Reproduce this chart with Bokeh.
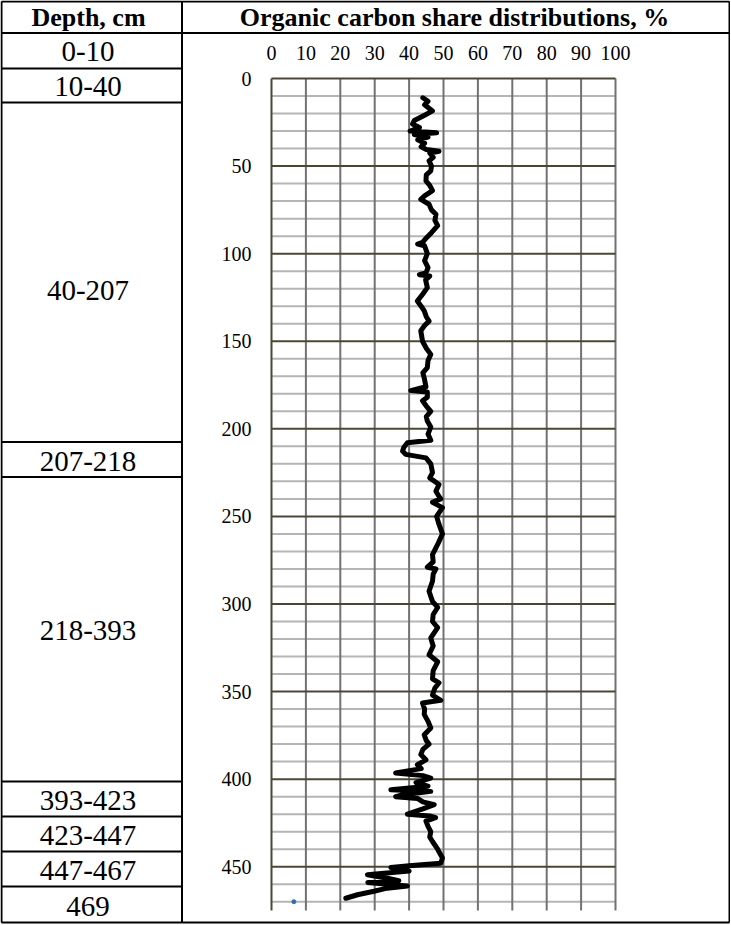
from bokeh.plotting import figure
from bokeh.models import Range1d
from bokeh.core.properties import value
from bokeh.embed import file_html
from bokeh.resources import INLINE

# ---------------- data ----------------
DEPTH_CLASSES = ["0-10", "10-40", "40-207", "207-218", "218-393",
                 "393-423", "423-447", "447-467", "469"]
HEADER_LEFT = "Depth, cm"
HEADER_RIGHT = "Organic carbon share distributions, %"

DEPTH_CM = [11, 13, 15, 18.5, 21, 24, 26, 28, 30, 31, 32, 33.5, 35, 37, 39, 40.5, 41.5, 42.5,
            45, 47, 50, 52.7, 55, 58.5, 61, 64, 67, 69, 71.8, 75, 77.5, 81, 84, 88, 91, 93.5,
            94.5, 95.5, 100, 104, 108, 111, 112, 112.8, 115, 119.4, 123, 127, 130, 132.7, 136,
            138.5, 141, 144, 150, 154, 157.5, 161, 165, 168, 171, 176, 178.2, 179, 182, 184,
            187, 190, 193, 195.6, 199, 203, 206.5, 208, 210.5, 212.7, 214.6, 216.6, 220, 225,
            228, 231.8, 235.6, 238, 240, 242, 245, 250, 254.6, 260, 266, 271.8, 276, 279, 280,
            283, 287, 292.7, 298.5, 302, 306, 310, 313.5, 319.4, 324, 329, 333, 338, 342.7,
            345, 348, 352, 355, 356.5, 360, 363, 367, 370.8, 374.7, 378, 380, 383, 386, 389,
            391.8, 394, 396.5, 398, 399.4, 402, 404, 406, 407, 409, 410, 411, 413, 414.6, 417,
            420, 421, 422, 424, 427, 430, 433, 435.6, 440, 445, 448, 449.5, 450.5, 452.5,
            454.6, 456.6, 458, 459, 461, 462.5, 464, 466, 468]
OC_SHARE = [44.0, 45.5, 44.5, 46.8, 44.5, 41.5, 41.0, 43.0, 40.3, 48.0, 41.5, 45.5, 42.5, 44.5,
            43.5, 45.0, 48.7, 46.0, 47.0, 45.8, 46.5, 46.3, 45.0, 44.9, 46.0, 46.8, 44.5, 43.4,
            45.8, 46.5, 47.8, 47.5, 48.3, 46.5, 45.0, 43.9, 42.5, 44.5, 45.3, 44.5, 45.5, 44.9,
            43.0, 46.0, 44.8, 45.3, 44.0, 42.4, 43.5, 44.4, 45.0, 45.8, 44.5, 43.4, 43.9, 45.0,
            46.3, 45.5, 45.3, 44.0, 44.4, 44.9, 40.5, 45.3, 45.3, 43.9, 45.0, 46.3, 45.0, 45.3,
            46.3, 45.5, 46.3, 39.5, 38.5, 38.1, 39.0, 44.9, 46.3, 46.8, 46.0, 48.7, 47.8, 48.5,
            49.2, 46.8, 49.7, 48.0, 48.7, 49.7, 48.3, 46.8, 47.0, 45.3, 47.8, 47.0, 46.8, 45.8,
            46.8, 48.3, 47.0, 46.8, 48.3, 46.3, 47.0, 45.8, 48.3, 47.0, 46.8, 48.7, 47.5, 46.8,
            49.2, 43.9, 44.5, 44.4, 45.5, 46.3, 44.4, 45.0, 45.8, 44.0, 43.4, 44.9, 42.4, 43.5,
            36.1, 44.0, 46.3, 42.0, 45.5, 34.7, 46.3, 38.0, 36.1, 42.4, 44.0, 47.3, 44.0, 39.5,
            46.0, 47.7, 44.9, 45.5, 46.3, 46.0, 46.8, 48.3, 49.7, 49.2, 40.0, 34.7, 40.0, 27.9,
            33.7, 37.0, 28.0, 39.5, 33.0, 29.8, 25.0, 21.6]
POINT_DEPTH = [470]
POINT_SHARE = [6.5]

X_TICKS = list(range(0, 101, 10))
Y_TICKS = list(range(0, 451, 50))
Y_MINOR = [d for d in range(0, 471, 10) if d % 50]
X_MIN, X_MAX = 0, 100
Y_MIN, Y_MAX = 0, 475

# ---------------- layout (pixel geometry of the table and chart box) ----------------
W, H = 730, 924
FL, FR, FT, FB = 271, 615, 78, 910          # chart box on the canvas

sx = (FR - FL) / (X_MAX - X_MIN)
sy = (FB - FT) / (Y_MAX - Y_MIN)

p = figure(width=W, height=H, x_range=Range1d(0, W), y_range=Range1d(H, 0),
           x_axis_type=None, y_axis_type=None, output_backend="svg",
           toolbar_location=None, min_border=0, outline_line_color=None,
           background_fill_color="white", border_fill_color="white")
p.xgrid.visible = False
p.ygrid.visible = False

# chart scales: percent across, depth down
p.extra_x_ranges["pct"] = Range1d(X_MIN - FL / sx, X_MIN + (W - FL) / sx)
p.extra_y_ranges["depth"] = Range1d(Y_MIN + (H - FT) / sy, Y_MIN - FT / sy)
C = dict(x_range_name="pct", y_range_name="depth")

AX_COL = "#4b4737"
SERIF = value("Liberation Serif")

# minor horizontal grid
p.segment(x0=[X_MIN] * len(Y_MINOR), y0=Y_MINOR, x1=[X_MAX] * len(Y_MINOR), y1=Y_MINOR,
          line_color="#b5b5b5", line_width=2, **C)
# vertical grid
p.segment(x0=X_TICKS[1:], y0=[Y_MIN] * 10, x1=X_TICKS[1:], y1=[Y_MAX] * 10,
          line_color="#727272", line_width=2, **C)
# major horizontal grid
p.segment(x0=[X_MIN] * len(Y_TICKS), y0=Y_TICKS, x1=[X_MAX] * len(Y_TICKS), y1=Y_TICKS,
          line_color=AX_COL, line_width=2, **C)
# left axis line
p.segment(x0=[X_MIN], y0=[Y_MIN], x1=[X_MIN], y1=[Y_MAX], line_color=AX_COL,
          line_width=2, **C)

# tick labels
p.text(x=X_TICKS, y=[Y_MIN] * len(X_TICKS), text=[str(t) for t in X_TICKS],
       y_offset=-26, text_font=SERIF, text_font_size="20px", text_color="black",
       text_align="center", text_baseline="middle", **C)
p.text(x=[X_MIN] * len(Y_TICKS), y=Y_TICKS, text=[str(t) for t in Y_TICKS],
       x_offset=-20, text_font=SERIF, text_font_size="20px", text_color="black",
       text_align="right", text_baseline="middle", **C)

# data
p.line(OC_SHARE, DEPTH_CM, line_width=5, line_color="black",
       line_join="round", line_cap="round", **C)
p.scatter(POINT_SHARE, POINT_DEPTH, size=4, color="#2f6eab", **C)

# ---------------- table ----------------
T_L, T_R, T_T, T_B = 1, 729, 1, 922
COL_X = 181.5
ROW_Y = [32.5, 68, 102, 441.5, 476.5, 781, 816, 851, 886, 922]
LABEL_Y = [51, 86, 290, 461, 630, 800, 835, 870, 906]

x0 = [T_L, T_L, T_L, T_R, COL_X, T_L]
y0 = [T_T, T_B, T_T, T_T, T_T, ROW_Y[0]]
x1 = [T_R, T_R, T_L, T_R, COL_X, T_R]
y1 = [T_T, T_B, T_B, T_B, T_B, ROW_Y[0]]
for yy in ROW_Y[1:-1]:
    x0.append(T_L); y0.append(yy); x1.append(COL_X); y1.append(yy)
p.segment(x0=x0, y0=y0, x1=x1, y1=y1, line_color="black", line_width=2)

p.text(x=[88, 454], y=[17, 17], text=[HEADER_LEFT, HEADER_RIGHT], text_font=SERIF,
       text_font_style="bold", text_font_size="26px", text_color="black",
       text_align="center", text_baseline="middle")

p.text(x=[87.5] * len(DEPTH_CLASSES), y=LABEL_Y, text=DEPTH_CLASSES, text_font=SERIF,
       text_font_size="29px", text_color="black", text_align="center",
       text_baseline="middle")

open("out.html", "w").write(file_html(p, INLINE))
